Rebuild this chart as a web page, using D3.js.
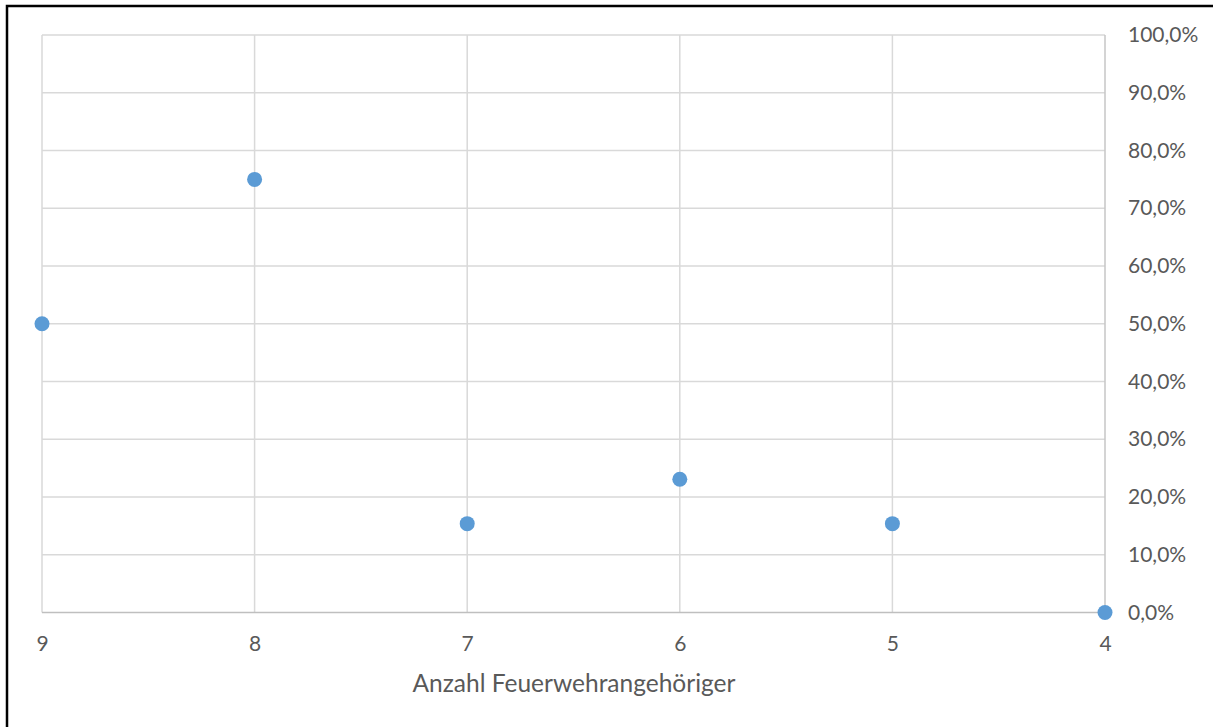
<!DOCTYPE html>
<html>
<head>
<meta charset="utf-8">
<script src="https://cdn.jsdelivr.net/npm/d3@7/dist/d3.min.js"></script>
<style>
  html, body { margin: 0; padding: 0; background: #fff; }
  svg { display: block; }
  text { font-family: Lato, "Open Sans", sans-serif; fill: #595959; }
</style>
</head>
<body>
<svg id="chart" width="1213" height="727"></svg>
<script>
// Share of responses by number of fire brigade members
const members = [9, 8, 7, 6, 5, 4];
const shares = [0.5, 0.75, 2 / 13, 3 / 13, 2 / 13, 0];
const yTicks = [0, 0.1, 0.2, 0.3, 0.4, 0.5, 0.6, 0.7, 0.8, 0.9, 1.0];
const xTicks = [9, 8, 7, 6, 5, 4];
const xTitle = "Anzahl Feuerwehrangehöriger";

const W = 1213, H = 727;
const plot = { left: 42, right: 1105, top: 35, bottom: 612.5 };

const svg = d3.select("#chart");

// outer frame
svg.append("rect")
  .attr("x", 7).attr("y", 6)
  .attr("width", W + 10).attr("height", H + 10)
  .attr("fill", "none").attr("stroke", "#000").attr("stroke-width", 2.5);

// x runs from 9 on the left down to 4 on the right
const x = d3.scaleLinear().domain([9, 4]).range([plot.left, plot.right]);
const y = d3.scaleLinear().domain([0, 1]).range([plot.bottom, plot.top]);

const pct = v => d3.format(".1f")(v * 100).replace(".", ",") + "%";

// horizontal gridlines
svg.append("g")
  .selectAll("line")
  .data(yTicks.filter(v => v > 0))
  .join("line")
  .attr("x1", plot.left).attr("x2", plot.right)
  .attr("y1", d => y(d)).attr("y2", d => y(d))
  .attr("stroke", "#d9d9d9").attr("stroke-width", 1.5);

// vertical gridlines
svg.append("g")
  .selectAll("line")
  .data(xTicks.filter(v => v !== 4))
  .join("line")
  .attr("x1", d => x(d)).attr("x2", d => x(d))
  .attr("y1", plot.top).attr("y2", plot.bottom)
  .attr("stroke", "#d9d9d9").attr("stroke-width", 1.5);

// value axis line on the right (crosses at 4)
svg.append("line")
  .attr("x1", x(4)).attr("x2", x(4))
  .attr("y1", plot.top).attr("y2", plot.bottom)
  .attr("stroke", "#c6c6c6").attr("stroke-width", 1.5);

// category axis line at 0 %
svg.append("line")
  .attr("x1", plot.left).attr("x2", plot.right)
  .attr("y1", y(0)).attr("y2", y(0))
  .attr("stroke", "#bfbfbf").attr("stroke-width", 1.5);

// y tick labels (right side)
const yAxis = d3.axisRight(y).tickValues(yTicks).tickFormat(pct).tickSize(0).tickPadding(0);
const gy = svg.append("g").attr("transform", `translate(${plot.right + 23},0)`).call(yAxis);
gy.select(".domain").remove();
gy.selectAll("text").attr("font-size", 21).attr("fill", "#595959")
  .style("font-family", "Lato, 'Open Sans', sans-serif");

// x tick labels
const xAxis = d3.axisBottom(x).tickValues(xTicks).tickFormat(d3.format("d")).tickSize(0).tickPadding(0);
const gx = svg.append("g").attr("transform", `translate(0,${plot.bottom + 24})`).call(xAxis);
gx.select(".domain").remove();
gx.selectAll("text").attr("font-size", 21).attr("fill", "#595959")
  .style("font-family", "Lato, 'Open Sans', sans-serif");

// axis title
svg.append("text")
  .attr("x", (plot.left + plot.right) / 2 + 0.5)
  .attr("y", 692)
  .attr("text-anchor", "middle")
  .attr("font-size", 24.5)
  .text(xTitle);

// data points
svg.append("g")
  .selectAll("circle")
  .data(members.map((m, i) => ({ m, v: shares[i] })))
  .join("circle")
  .attr("cx", d => x(d.m))
  .attr("cy", d => y(d.v))
  .attr("r", 7.5)
  .attr("fill", "#5b9bd5");
</script>
</body>
</html>
